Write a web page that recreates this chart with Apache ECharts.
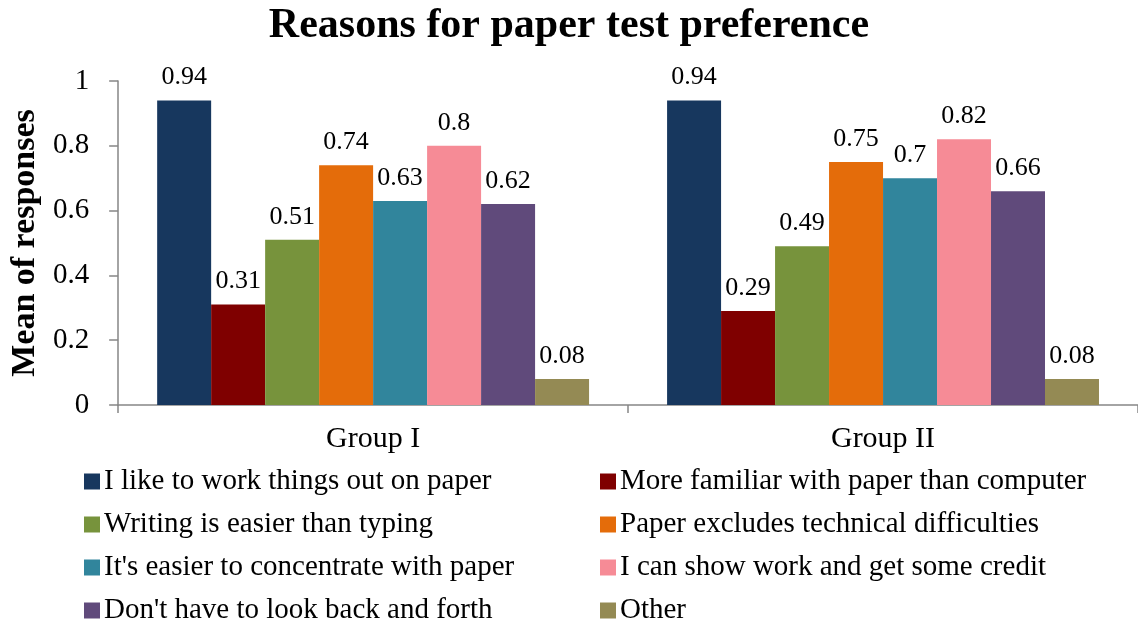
<!DOCTYPE html>
<html>
<head>
<meta charset="utf-8">
<script src="https://cdn.jsdelivr.net/npm/echarts@6/dist/echarts.min.js"></script>
<style>
html,body{margin:0;padding:0;background:#fff;overflow:hidden;}
#chart{width:1138px;height:625px;}
</style>
</head>
<body>
<div id="chart"></div>
<script>
var categories = ['Group I', 'Group II'];
var seriesNames = [
  'I like to work things out on paper',
  'More familiar with paper than computer',
  'Writing is easier than typing',
  'Paper excludes technical difficulties',
  "It's easier to concentrate with paper",
  'I can show work and get some credit',
  "Don't have to look back and forth",
  'Other'
];
var likeWorkOut = [0.94, 0.94];
var moreFamiliar = [0.31, 0.29];
var writingEasier = [0.51, 0.49];
var excludesTech = [0.74, 0.75];
var concentrate = [0.63, 0.70];
var showWork = [0.80, 0.82];
var lookBack = [0.62, 0.66];
var other = [0.08, 0.08];
var seriesValues = [likeWorkOut, moreFamiliar, writingEasier, excludesTech, concentrate, showWork, lookBack, other];
var colors = ['#17375E', '#7F0000', '#77933C', '#E46C0A', '#31859C', '#F68B96', '#604A7B', '#948A54'];
var yTicks = [0, 0.2, 0.4, 0.6, 0.8, 1];

var serif = '"Liberation Serif", "Times New Roman", serif';
var chart = echarts.init(document.getElementById('chart'));

var series = seriesNames.map(function (n, i) {
  return {
    name: n,
    type: 'bar',
    data: seriesValues[i],
    barGap: '0%',
    barCategoryGap: '15.3%',
    itemStyle: { color: colors[i] },
    label: {
      show: true,
      position: 'top',
      distance: 10,
      color: '#000',
      fontFamily: serif,
      fontSize: 26,
      formatter: function (p) { return String(+p.value.toFixed(2)); }
    }
  };
});

var legendCommon = {
  orient: 'vertical',
  top: 467,
  height: 200,
  padding: 0,
  itemWidth: 16,
  itemHeight: 16,
  itemGap: 14,
  icon: 'rect',
  textStyle: { fontFamily: serif, fontSize: 29, lineHeight: 29, color: '#000', padding: [0, 0, 0, -1] }
};

chart.setOption({
  animation: false,
  color: colors,
  title: {
    text: 'Reasons for paper test preference',
    left: 'center',
    top: 0,
    textStyle: { fontFamily: serif, fontWeight: 'bold', fontSize: 42, color: '#000' }
  },
  legend: [
    Object.assign({}, legendCommon, { left: 84, data: [seriesNames[0], seriesNames[2], seriesNames[4], seriesNames[6]] }),
    Object.assign({}, legendCommon, { left: 600, data: [seriesNames[1], seriesNames[3], seriesNames[5], seriesNames[7]] })
  ],
  grid: { left: 114, right: 0, top: 81, bottom: 220, containLabel: false },
  xAxis: {
    type: 'category',
    data: categories,
    axisLine: { lineStyle: { color: '#868686', width: 1.5 } },
    axisTick: { show: true, length: 8, lineStyle: { color: '#868686', width: 1.5 } },
    axisLabel: { fontFamily: serif, fontSize: 30, color: '#000', margin: 19 }
  },
  yAxis: {
    type: 'value',
    min: 0,
    max: 1,
    interval: 0.2,
    name: 'Mean of responses',
    nameLocation: 'middle',
    nameGap: 76,
    nameTextStyle: { fontFamily: serif, fontWeight: 'bold', fontSize: 34, color: '#000' },
    axisLine: { show: true, lineStyle: { color: '#868686', width: 1.5 } },
    axisTick: { show: true, length: 9, lineStyle: { color: '#868686', width: 1.5 } },
    splitLine: { show: false },
    axisLabel: {
      fontFamily: serif, fontSize: 29, color: '#000', margin: 29,
      formatter: function (v) {
        for (var i = 0; i < yTicks.length; i++) { if (Math.abs(yTicks[i] - v) < 1e-9) return String(yTicks[i]); }
        return '';
      }
    }
  },
  series: series
});
</script>
</body>
</html>
